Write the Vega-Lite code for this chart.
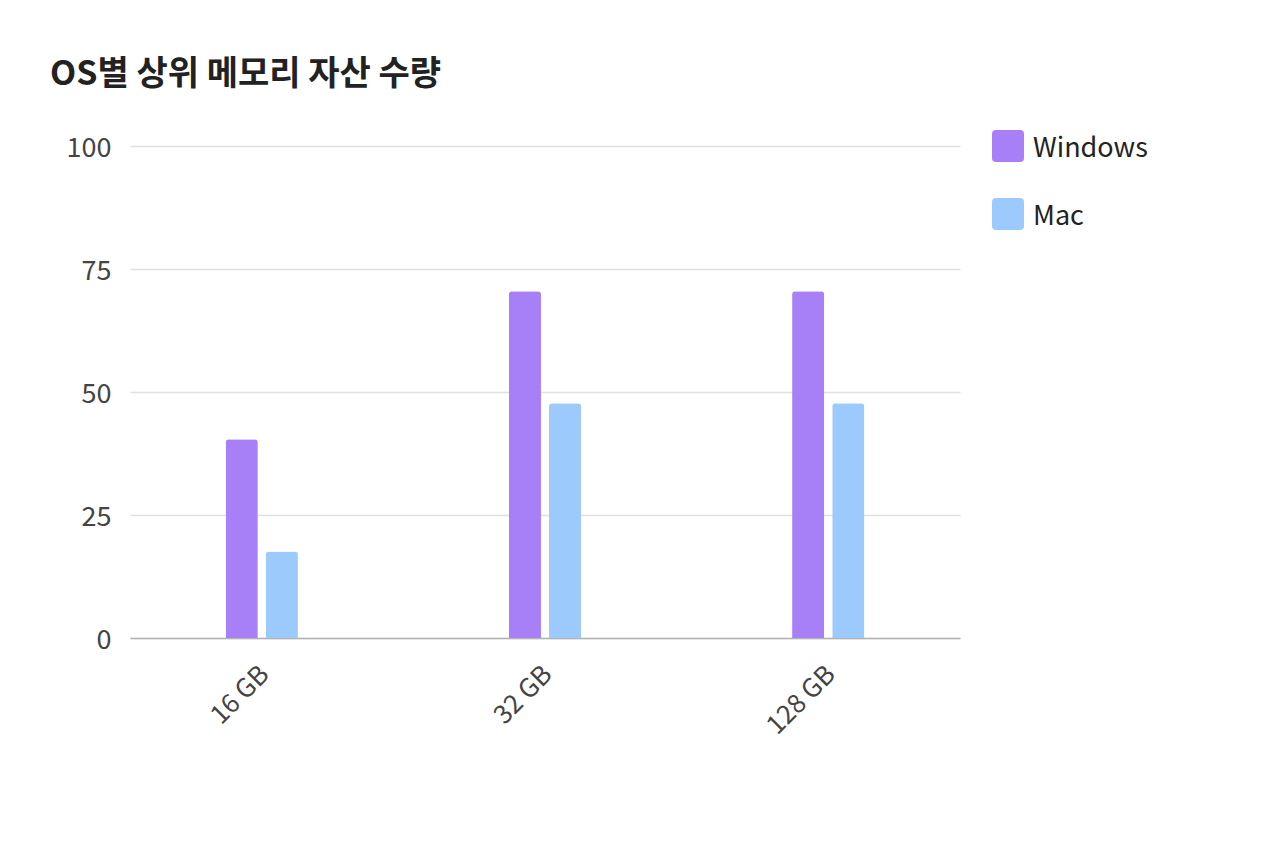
{
  "$schema": "https://vega.github.io/schema/vega-lite/v6.json",
  "width": 830,
  "height": 492,
  "autosize": "none",
  "padding": {"left": 130, "top": 146, "right": 320, "bottom": 226},
  "background": "white",
  "title": {
    "text": "OS별 상위 메모리 자산 수량",
    "anchor": "start",
    "frame": "group",
    "font": "Noto Sans CJK KR",
    "fontSize": 34,
    "fontWeight": "bold",
    "color": "#222222",
    "dx": -80,
    "offset": 38
  },
  "data": {
    "values": [
      {"memory": "16 GB", "os": "Windows", "count": 40.4},
      {"memory": "16 GB", "os": "Mac", "count": 17.6},
      {"memory": "32 GB", "os": "Windows", "count": 70.5},
      {"memory": "32 GB", "os": "Mac", "count": 47.7},
      {"memory": "128 GB", "os": "Windows", "count": 70.5},
      {"memory": "128 GB", "os": "Mac", "count": 47.7}
    ]
  },
  "mark": {
    "type": "bar",
    "cornerRadiusTopLeft": 3,
    "cornerRadiusTopRight": 3
  },
  "encoding": {
    "x": {
      "field": "memory",
      "type": "nominal",
      "sort": ["16 GB", "32 GB", "128 GB"],
      "scale": {"paddingInner": 0.745, "paddingOuter": 0.338},
      "axis": {
        "title": null,
        "labelAngle": -45,
        "labelAlign": "right",
        "labelBaseline": "middle",
        "labelPadding": 32,
        "labelOffset": 3,
        "ticks": false,
        "domainColor": "#b3b3b3",
        "domainWidth": 1.5,
        "labelFont": "Noto Sans CJK KR",
        "labelFontSize": 26,
        "labelColor": "#444444"
      }
    },
    "xOffset": {
      "field": "os",
      "type": "nominal",
      "sort": ["Windows", "Mac"],
      "scale": {"paddingInner": 0.2, "paddingOuter": 0}
    },
    "y": {
      "field": "count",
      "type": "quantitative",
      "scale": {"domain": [0, 100]},
      "axis": {
        "title": null,
        "values": [0, 25, 50, 75, 100],
        "ticks": false,
        "domain": false,
        "gridColor": "#e0e0e0",
        "gridWidth": 1.5,
        "labelPadding": 19,
        "labelFont": "Noto Sans CJK KR",
        "labelFontSize": 27,
        "labelColor": "#444444",
        "labelOffset": 2
      }
    },
    "color": {
      "field": "os",
      "type": "nominal",
      "sort": ["Windows", "Mac"],
      "scale": {"domain": ["Windows", "Mac"], "range": ["#a77ff7", "#9ccafd"]},
      "legend": {
        "title": null,
        "orient": "none",
        "legendX": 862,
        "legendY": -16,
        "symbolType": "M-0.75,-1H0.75Q1,-1 1,-0.75V0.75Q1,1 0.75,1H-0.75Q-1,1 -1,0.75V-0.75Q-1,-1 -0.75,-1Z",
        "symbolSize": 1024,
        "symbolStrokeWidth": 0,
        "symbolOpacity": 1,
        "rowPadding": 36,
        "labelOffset": 9,
        "labelFont": "Noto Sans CJK KR",
        "labelFontSize": 27,
        "labelColor": "#222222",
        "labelLimit": 300,
        "encode": {"labels": {"update": {"dy": {"value": 3}}}}
      }
    }
  },
  "config": {
    "view": {"stroke": null}
  }
}
